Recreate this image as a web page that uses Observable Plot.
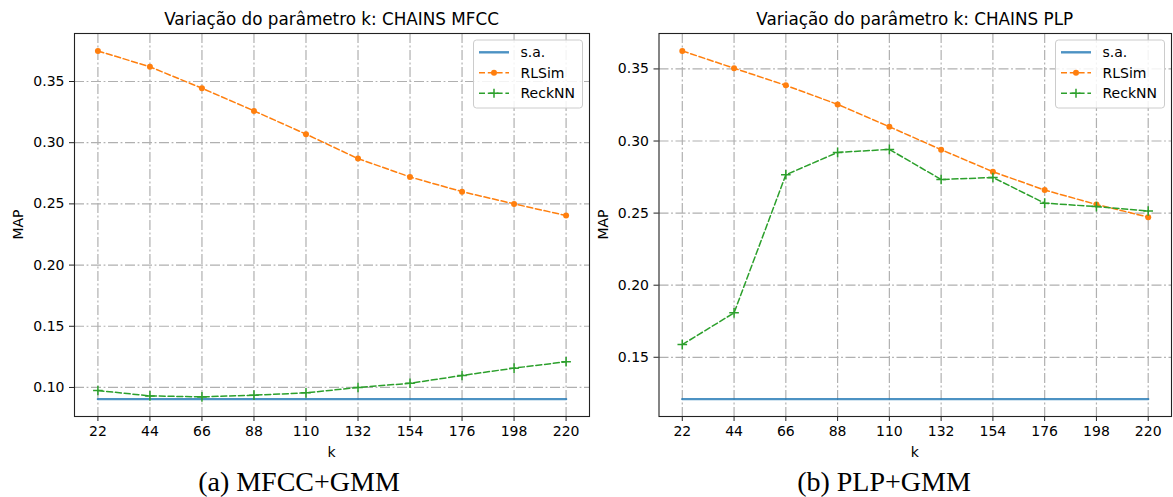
<!DOCTYPE html>
<html><head><meta charset="utf-8">
<script src="https://cdn.jsdelivr.net/npm/d3@7"></script>
<script src="https://cdn.jsdelivr.net/npm/@observablehq/plot@0.6"></script>
<style>
body{margin:0;background:#fff;}
#wrap{position:relative;width:1173px;height:497px;overflow:hidden;background:#fff;}
#wrap > div.panel{position:absolute;top:0;}
#overlay{position:absolute;left:0;top:0;pointer-events:none;}
</style></head><body>
<div id="wrap"></div>
<script>
// ---- data ----
const ks = [22, 44, 66, 88, 110, 132, 154, 176, 198, 220];
const seriesNames = ["s.a.", "RLSim", "ReckNN"];
const mfccSA     = [0.0905, 0.0905, 0.0905, 0.0905, 0.0905, 0.0905, 0.0905, 0.0905, 0.0905, 0.0905];
const mfccRLSim  = [0.375, 0.362, 0.3445, 0.326, 0.307, 0.287, 0.272, 0.260, 0.250, 0.2405];
const mfccReckNN = [0.0975, 0.0931, 0.0923, 0.0937, 0.0956, 0.1000, 0.1034, 0.1098, 0.1158, 0.1210];
const plpSA      = [0.121, 0.121, 0.121, 0.121, 0.121, 0.121, 0.121, 0.121, 0.121, 0.121];
const plpRLSim   = [0.3625, 0.3505, 0.3386, 0.3254, 0.3099, 0.2940, 0.2787, 0.2660, 0.2560, 0.2472];
const plpReckNN  = [0.1588, 0.1808, 0.2766, 0.2921, 0.2942, 0.2733, 0.2747, 0.2569, 0.2545, 0.2515];
const yTicksMFCC = [0.10, 0.15, 0.20, 0.25, 0.30, 0.35];
const yTicksPLP  = [0.15, 0.20, 0.25, 0.30, 0.35];
const titles   = ["Variação do parâmetro k: CHAINS MFCC", "Variação do parâmetro k: CHAINS PLP"];
const captions = ["(a) MFCC+GMM", "(b) PLP+GMM"];
const xLabel = "k", yLabel = "MAP";

const colors = {sa: "#1f77b4", rl: "#ff7f0e", rk: "#2ca02c"};
const DASH = "6,2.8";
const GRID_DASH = "10,2.6,1.8,2.6";
const H = 497, MT = 33, MB = 81;

const panels = [
  {left: 0, width: 600, ml: 74, mr: 11, sa: mfccSA, rl: mfccRLSim, rk: mfccReckNN, yTicks: yTicksMFCC, title: titles[0], caption: captions[0], capX: 299, ylabX: 23},
  {left: 590, width: 583, ml: 68.5, mr: 2, sa: plpSA, rl: plpRLSim, rk: plpReckNN, yTicks: yTicksPLP, title: titles[1], caption: captions[1], capX: 884, ylabX: 608}
];

const wrap = document.getElementById("wrap");

function rows(vals) { return ks.map((k, i) => ({k, v: vals[i]})); }

for (const p of panels) {
  const all = [...p.sa, ...p.rl, ...p.rk];
  const lo = d3.min(all), hi = d3.max(all), pad = (hi - lo) * 0.05;
  const xpad = (d3.max(ks) - d3.min(ks)) * 0.05;
  const chart = Plot.plot({
    width: p.width, height: H,
    marginLeft: p.ml, marginRight: p.mr, marginTop: MT, marginBottom: MB,
    style: {fontFamily: "DejaVu Sans", fontSize: "14px", color: "#000", background: "transparent"},
    x: {domain: [d3.min(ks) - xpad, d3.max(ks) + xpad], axis: null},
    y: {domain: [lo - pad, hi + pad], axis: null},
    marks: [
      Plot.gridX(ks, {stroke: "#b0b0b0", strokeOpacity: 1, strokeWidth: 1.2, strokeDasharray: GRID_DASH}),
      Plot.gridY(p.yTicks, {stroke: "#b0b0b0", strokeOpacity: 1, strokeWidth: 1.2, strokeDasharray: GRID_DASH}),
      Plot.line(rows(p.sa), {x: "k", y: "v", stroke: colors.sa, strokeWidth: 2.4, strokeOpacity: 0.8}),
      Plot.line(rows(p.rl), {x: "k", y: "v", stroke: colors.rl, strokeWidth: 1.5, strokeDasharray: DASH}),
      Plot.dot(rows(p.rl), {x: "k", y: "v", fill: colors.rl, r: 3}),
      Plot.line(rows(p.rk), {x: "k", y: "v", stroke: colors.rk, strokeWidth: 1.5, strokeDasharray: DASH}),
      Plot.dot(rows(p.rk), {x: "k", y: "v", stroke: colors.rk, symbol: "plus", r: 3.2, strokeWidth: 1.5}),
      Plot.frame({stroke: "#222", strokeWidth: 1.1}),
      Plot.axisX({ticks: ks, tickSize: 5, tickPadding: 5, tickFormat: d => String(d), label: null, fontSize: 14, stroke: "#222"}),
      Plot.axisY({ticks: p.yTicks, tickSize: 5, tickPadding: 5, tickFormat: d3.format(".2f"), label: null, fontSize: 14, stroke: "#222"})
    ]
  });
  const div = document.createElement("div");
  div.className = "panel";
  div.style.left = p.left + "px";
  div.appendChild(chart);
  wrap.appendChild(div);
}

// ---- overlay: titles, axis labels, captions, legends ----
const ov = d3.select(wrap).append("svg").attr("id", "overlay")
  .attr("width", 1173).attr("height", H)
  .style("font-family", "DejaVu Sans");

for (const p of panels) {
  const fx0 = p.left + p.ml, fx1 = p.left + p.width - p.mr;
  const cx = (fx0 + fx1) / 2;
  const fyTop = MT, fyBot = H - MB;
  ov.append("text").attr("x", cx).attr("y", 25).attr("text-anchor", "middle")
    .attr("font-size", 16.8).attr("fill", "#000").text(p.title);
  ov.append("text").attr("x", cx).attr("y", 456.5).attr("text-anchor", "middle")
    .attr("font-size", 14).attr("fill", "#000").text(xLabel);
  ov.append("text").attr("transform", `translate(${p.ylabX},${(fyTop + fyBot) / 2}) rotate(-90)`)
    .attr("text-anchor", "middle").attr("font-size", 14).attr("fill", "#000").text(yLabel);
  ov.append("text").attr("x", p.capX).attr("y", 490.5).attr("text-anchor", "middle")
    .attr("font-family", "Liberation Serif").attr("font-size", 28).attr("fill", "#000").text(p.caption);

  // legend
  const bw = 109, bh = 68;
  const bx = fx1 - 6.5 - bw, by = 40;
  const g = ov.append("g").attr("transform", `translate(${bx},${by})`);
  g.append("rect").attr("x", 0).attr("y", 0).attr("width", bw).attr("height", bh).attr("rx", 3)
    .attr("fill", "#fff").attr("fill-opacity", 0.85).attr("stroke", "#cccccc").attr("stroke-width", 1);
  const rowY = [12.3, 32.7, 53.2];
  const sx0 = 5.5, sx1 = 35.5, tx = 47;
  // s.a.
  g.append("line").attr("x1", sx0).attr("x2", sx1).attr("y1", rowY[0]).attr("y2", rowY[0])
    .attr("stroke", colors.sa).attr("stroke-width", 2.4).attr("stroke-opacity", 0.8);
  // RLSim
  g.append("line").attr("x1", sx0).attr("x2", sx1).attr("y1", rowY[1]).attr("y2", rowY[1])
    .attr("stroke", colors.rl).attr("stroke-width", 1.5).attr("stroke-dasharray", DASH);
  g.append("circle").attr("cx", (sx0 + sx1) / 2).attr("cy", rowY[1]).attr("r", 3).attr("fill", colors.rl);
  // ReckNN
  g.append("line").attr("x1", sx0).attr("x2", sx1).attr("y1", rowY[2]).attr("y2", rowY[2])
    .attr("stroke", colors.rk).attr("stroke-width", 1.5).attr("stroke-dasharray", DASH);
  const mx = (sx0 + sx1) / 2;
  g.append("path").attr("d", `M${mx - 4.5},${rowY[2]}H${mx + 4.5}M${mx},${rowY[2] - 4.5}V${rowY[2] + 4.5}`)
    .attr("stroke", colors.rk).attr("stroke-width", 1.5).attr("fill", "none");
  seriesNames.forEach((n, i) => {
    g.append("text").attr("x", tx).attr("y", rowY[i] + 5).attr("font-size", 14).attr("fill", "#000").text(n);
  });
}
</script>
</body></html>
